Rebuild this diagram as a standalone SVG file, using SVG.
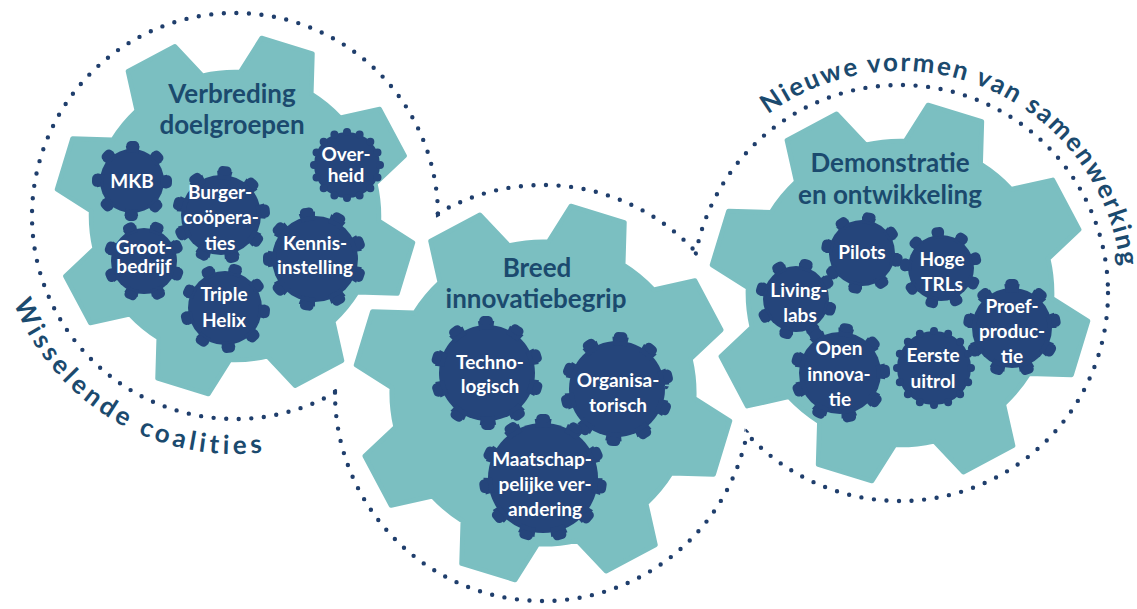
<svg xmlns="http://www.w3.org/2000/svg" width="1137" height="609" viewBox="0 0 1137 609">
<style>
.big{fill:#7BBFC1;stroke:#7BBFC1;stroke-width:2.5;stroke-linejoin:round}
.body{fill:#25457B}
.ta{fill:none;stroke:#25457B;stroke-linecap:butt;stroke-dasharray:5 5}
.tb{fill:none;stroke:#25457B;stroke-width:9;stroke-linecap:round;stroke-dasharray:1.4 8.6;stroke-dashoffset:-1.8}
.scallop{fill:none;stroke:#25457B;stroke-width:8;stroke-linecap:round;stroke-dasharray:0 10}
.lbl{font-family:Lato,'Open Sans',sans-serif;font-weight:700;font-size:19px;fill:#ffffff;text-anchor:middle}
.title{font-family:Lato,'Open Sans',sans-serif;font-weight:700;font-size:26px;fill:#1B4A6E;text-anchor:middle}
.arc{font-family:Lato,'Open Sans',sans-serif;font-weight:700;font-size:26px;fill:#1B4A6E}
.dots{fill:none;stroke:#1F3E6C;stroke-width:4.4;stroke-linecap:round;stroke-dasharray:0 12.6}
</style>
<defs>
<path id="gearshape" d="M 2.79 -79.95 L 14.78 -98.90 L 43.05 -90.26 L 42.39 -67.84 A 80 80 0 0 1 58.51 -54.56 L 80.39 -59.48 L 94.26 -33.38 L 77.95 -18.00 A 80 80 0 0 1 79.95 2.79 L 98.90 14.78 L 90.26 43.05 L 67.84 42.39 A 80 80 0 0 1 54.56 58.51 L 59.48 80.39 L 33.38 94.26 L 18.00 77.95 A 80 80 0 0 1 -2.79 79.95 L -14.78 98.90 L -43.05 90.26 L -42.39 67.84 A 80 80 0 0 1 -58.51 54.56 L -80.39 59.48 L -94.26 33.38 L -77.95 18.00 A 80 80 0 0 1 -79.95 -2.79 L -98.90 -14.78 L -90.26 -43.05 L -67.84 -42.39 A 80 80 0 0 1 -54.56 -58.51 L -59.48 -80.39 L -33.38 -94.26 L -18.00 -77.95 A 80 80 0 0 1 2.79 -79.95 Z"/>
<path id="arcW" d="M 13.6 303.2 A 238 238 0 0 0 284.5 448.8"/>
<path id="arcN" d="M 768 114.5 A 222 222 0 0 1 1121.9 285.3"/>
<mask id="m1" maskUnits="userSpaceOnUse" x="0" y="0" width="1137" height="609">
<rect width="1137" height="609" fill="#fff"/><circle cx="543" cy="393" r="205" fill="#000"/>
</mask>
<mask id="m2" maskUnits="userSpaceOnUse" x="0" y="0" width="1137" height="609">
<rect width="1137" height="609" fill="#fff"/><circle cx="235" cy="216" r="200" fill="#000"/><circle cx="900" cy="293" r="205" fill="#000"/>
</mask>
<mask id="m3" maskUnits="userSpaceOnUse" x="0" y="0" width="1137" height="609">
<rect width="1137" height="609" fill="#fff"/><circle cx="543" cy="393" r="205" fill="#000"/>
</mask>
</defs>

<g id="connectors">
<circle class="dots" cx="235" cy="216" r="203" mask="url(#m1)"/>
<circle class="dots" cx="543" cy="393" r="208" mask="url(#m2)"/>
<circle class="dots" cx="900" cy="293" r="208" mask="url(#m3)"/>
</g>

<g id="ring-labels">
<text class="arc" letter-spacing="4"><textPath href="#arcW">Wisselende coalities</textPath></text>
<text class="arc" letter-spacing="2"><textPath href="#arcN">Nieuwe vormen van samenwerking</textPath></text>
</g>

<g id="gear-verbreding">
<use href="#gearshape" class="big" transform="translate(235,216) scale(1.8)"/>
<text class="title" x="232" y="103">Verbreding</text>
<text class="title" x="232" y="134">doelgroepen</text>
</g>
<g id="gear-breed">
<use href="#gearshape" class="big" transform="translate(543,393) scale(1.89)"/>
<text class="title" x="537" y="277">Breed</text>
<text class="title" x="536" y="308">innovatiebegrip</text>
</g>
<g id="gear-demonstratie">
<use href="#gearshape" class="big" transform="translate(900,293) scale(1.9)"/>
<text class="title" x="890" y="172">Demonstratie</text>
<text class="title" x="890" y="204">en ontwikkeling</text>
</g>

<g id="node-mkb">
<circle class="body" cx="132" cy="181" r="32"/>
<g transform="rotate(-100 132 181)">
<circle class="ta" cx="132" cy="181" r="32" stroke-width="7" pathLength="80"/>
<circle class="tb" cx="132" cy="181" r="35.5" pathLength="80"/>
</g>
<text class="lbl" x="132" y="188">MKB</text>
</g>
<g id="node-overheid">
<circle class="body" cx="347" cy="165" r="33"/>
<circle class="scallop" cx="347" cy="165" r="33" pathLength="160"/>
<text class="lbl" x="346" y="161">Over-</text>
<text class="lbl" x="346" y="182">heid</text>
</g>
<g id="node-burger">
<circle class="body" cx="221" cy="215" r="40"/>
<g transform="rotate(-95 221 215)">
<circle class="ta" cx="221" cy="215" r="40" stroke-width="9" pathLength="90"/>
<circle class="tb" cx="221" cy="215" r="44.5" pathLength="90"/>
</g>
<text class="lbl" x="220" y="199">Burger-</text>
<text class="lbl" x="221" y="224">coöpera-</text>
<text class="lbl" x="220" y="250">ties</text>
</g>
<g id="node-groot">
<circle class="body" cx="144" cy="261" r="33"/>
<g transform="rotate(-80 144 261)">
<circle class="ta" cx="144" cy="261" r="33" stroke-width="7" pathLength="80"/>
<circle class="tb" cx="144" cy="261" r="36.5" pathLength="80"/>
</g>
<text class="lbl" x="144" y="254">Groot-</text>
<text class="lbl" x="144" y="273">bedrijf</text>
</g>
<g id="node-kennis">
<circle class="body" cx="315" cy="259" r="43"/>
<g transform="rotate(-110 315 259)">
<circle class="ta" cx="315" cy="259" r="43" stroke-width="9" pathLength="90"/>
<circle class="tb" cx="315" cy="259" r="47.5" pathLength="90"/>
</g>
<text class="lbl" x="315" y="250">Kennis-</text>
<text class="lbl" x="315" y="274">instelling</text>
</g>
<g id="node-triple">
<circle class="body" cx="225" cy="308" r="37"/>
<g transform="rotate(-85 225 308)">
<circle class="ta" cx="225" cy="308" r="37" stroke-width="7" pathLength="90"/>
<circle class="tb" cx="225" cy="308" r="40.5" pathLength="90"/>
</g>
<text class="lbl" x="224" y="301">Triple</text>
<text class="lbl" x="224" y="327">Helix</text>
</g>

<g id="node-techno">
<circle class="body" cx="487" cy="373" r="48"/>
<g transform="rotate(-100 487 373)">
<circle class="ta" cx="487" cy="373" r="48" stroke-width="9" pathLength="100"/>
<circle class="tb" cx="487" cy="373" r="52.5" pathLength="100"/>
</g>
<text class="lbl" x="490" y="369">Techno-</text>
<text class="lbl" x="490" y="393">logisch</text>
</g>
<g id="node-organisa">
<circle class="body" cx="617" cy="389" r="48"/>
<g transform="rotate(-95 617 389)">
<circle class="ta" cx="617" cy="389" r="48" stroke-width="9" pathLength="100"/>
<circle class="tb" cx="617" cy="389" r="52.5" pathLength="100"/>
</g>
<text class="lbl" x="618" y="387">Organisa-</text>
<text class="lbl" x="618" y="412">torisch</text>
</g>
<g id="node-maatschap">
<circle class="body" cx="543" cy="478" r="55"/>
<g transform="rotate(-98 543 478)">
<circle class="ta" cx="543" cy="478" r="55" stroke-width="9" pathLength="110"/>
<circle class="tb" cx="543" cy="478" r="59.5" pathLength="110"/>
</g>
<text class="lbl" x="542" y="466">Maatschap-</text>
<text class="lbl" x="545" y="491">pelijke ver-</text>
<text class="lbl" x="545" y="516">andering</text>
</g>

<g id="node-pilots">
<circle class="body" cx="862" cy="253" r="33"/>
<g transform="rotate(-90 862 253)">
<circle class="ta" cx="862" cy="253" r="33" stroke-width="7" pathLength="80"/>
<circle class="tb" cx="862" cy="253" r="36.5" pathLength="80"/>
</g>
<text class="lbl" x="862" y="259">Pilots</text>
</g>
<g id="node-hoge">
<circle class="body" cx="941" cy="268" r="33"/>
<g transform="rotate(-105 941 268)">
<circle class="ta" cx="941" cy="268" r="33" stroke-width="7" pathLength="90"/>
<circle class="tb" cx="941" cy="268" r="36.5" pathLength="90"/>
</g>
<text class="lbl" x="942" y="266">Hoge</text>
<text class="lbl" x="942" y="291">TRLs</text>
</g>
<g id="node-living">
<circle class="body" cx="796" cy="299" r="33"/>
<g transform="rotate(-85 796 299)">
<circle class="ta" cx="796" cy="299" r="33" stroke-width="7" pathLength="80"/>
<circle class="tb" cx="796" cy="299" r="36.5" pathLength="80"/>
</g>
<text class="lbl" x="799" y="297">Living-</text>
<text class="lbl" x="800" y="322">labs</text>
</g>
<g id="node-proef">
<circle class="body" cx="1012" cy="328" r="40"/>
<g transform="rotate(-100 1012 328)">
<circle class="ta" cx="1012" cy="328" r="40" stroke-width="9" pathLength="90"/>
<circle class="tb" cx="1012" cy="328" r="44.5" pathLength="90"/>
</g>
<text class="lbl" x="1012" y="313">Proef-</text>
<text class="lbl" x="1012" y="338">produc-</text>
<text class="lbl" x="1012" y="363">tie</text>
</g>
<g id="node-open">
<circle class="body" cx="840" cy="373" r="41"/>
<g transform="rotate(-92 840 373)">
<circle class="ta" cx="840" cy="373" r="41" stroke-width="9" pathLength="90"/>
<circle class="tb" cx="840" cy="373" r="45.5" pathLength="90"/>
</g>
<text class="lbl" x="839" y="355">Open</text>
<text class="lbl" x="839" y="381">innova-</text>
<text class="lbl" x="840" y="406">tie</text>
</g>
<g id="node-eerste">
<circle class="body" cx="934" cy="368" r="37"/>
<circle class="scallop" cx="934" cy="368" r="37" pathLength="160"/>
<text class="lbl" x="933" y="362">Eerste</text>
<text class="lbl" x="933" y="388">uitrol</text>
</g>
</svg>
